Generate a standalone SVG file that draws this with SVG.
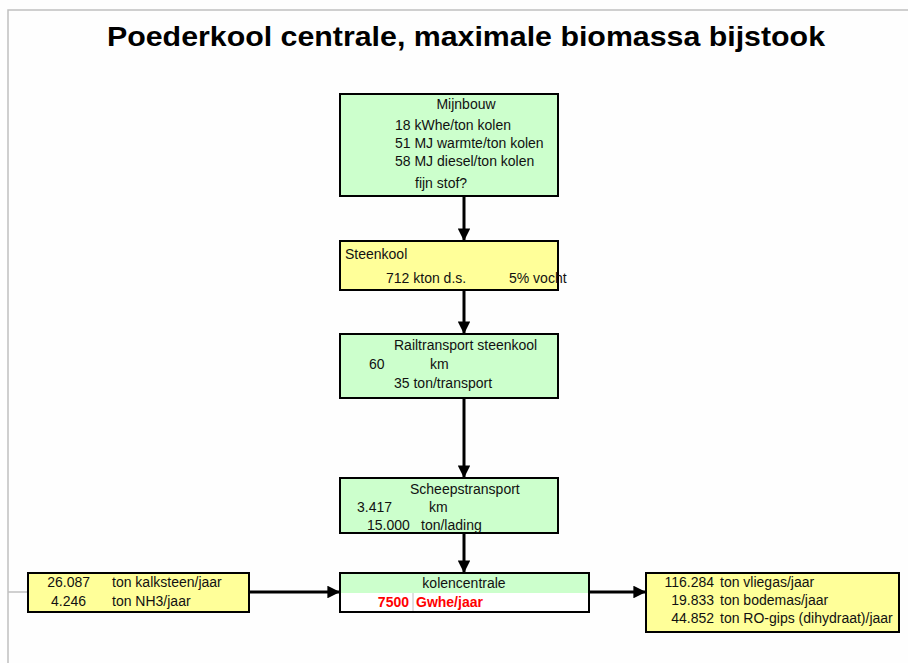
<svg xmlns="http://www.w3.org/2000/svg" width="908" height="663" viewBox="0 0 908 663">
  <style>
    .t { font-family: "Liberation Sans", Arial, sans-serif; font-size: 14px; fill: #111; }
    .title { font-family: "Liberation Sans", Arial, sans-serif; font-size: 27px; font-weight: bold; fill: #000; }
    .red { fill: #ff0000; font-weight: bold; }
    .green { fill: #ccffcc; stroke: #000; stroke-width: 2; }
    .yellow { fill: #ffff99; stroke: #000; stroke-width: 2; }
    .conn { stroke: #000; stroke-width: 3; fill: none; marker-end: url(#head); }
    .frame { stroke: #c0c0c0; stroke-width: 1.5; fill: none; }
  </style>
  <defs>
    <marker id="head" viewBox="0 0 10 10" refX="10" refY="5" markerWidth="4.2" markerHeight="4.2" markerUnits="strokeWidth" orient="auto">
      <path d="M0,0 L10,5 L0,10 Z" fill="#000"/>
    </marker>
  </defs>

  <rect x="0" y="0" width="908" height="663" fill="#fefefe"/>

  <!-- sheet frame -->
  <path class="frame" d="M8,663 V10 H908"/>
  <path class="frame" d="M8,592 H28"/>

  <text class="title" x="466" y="46" text-anchor="middle" textLength="718" lengthAdjust="spacingAndGlyphs">Poederkool centrale, maximale biomassa bijstook</text>

  <g id="connectors">
    <line class="conn" x1="464" y1="196" x2="464" y2="241"/>
    <line class="conn" x1="464" y1="290" x2="464" y2="334"/>
    <line class="conn" x1="464" y1="398" x2="464" y2="478"/>
    <line class="conn" x1="464" y1="533" x2="464" y2="573"/>
    <line class="conn" x1="249" y1="592" x2="340" y2="592"/>
    <line class="conn" x1="589" y1="592" x2="646" y2="592"/>
  </g>

  <g id="mijnbouw">
    <rect class="green" x="340" y="94" width="218" height="102"/>
    <text class="t" x="466" y="109" text-anchor="middle">Mijnbouw</text>
    <text class="t" x="395" y="130">18 kWhe/ton kolen</text>
    <text class="t" x="395" y="148">51 MJ warmte/ton kolen</text>
    <text class="t" x="395" y="166">58 MJ diesel/ton kolen</text>
    <text class="t" x="415" y="188">fijn stof?</text>
  </g>

  <g id="steenkool">
    <rect class="yellow" x="340" y="241" width="218" height="49"/>
    <text class="t" x="345" y="259">Steenkool</text>
    <text class="t" x="386" y="283">712 kton d.s.</text>
    <text class="t" x="509" y="283">5% vocht</text>
  </g>

  <g id="railtransport">
    <rect class="green" x="340" y="334" width="218" height="64"/>
    <text class="t" x="394" y="350">Railtransport steenkool</text>
    <text class="t" x="369" y="369">60</text>
    <text class="t" x="430" y="369">km</text>
    <text class="t" x="394" y="388">35 ton/transport</text>
  </g>

  <g id="scheepstransport">
    <rect class="green" x="340" y="478" width="218" height="55"/>
    <text class="t" x="410" y="494">Scheepstransport</text>
    <text class="t" x="357" y="512">3.417</text>
    <text class="t" x="429" y="512">km</text>
    <text class="t" x="367" y="530">15.000</text>
    <text class="t" x="421" y="530">ton/lading</text>
  </g>

  <g id="kolencentrale">
    <rect x="340" y="573" width="249" height="39" fill="#ffffff"/>
    <rect x="340" y="573" width="249" height="20" fill="#ccffcc"/>
    <line x1="413" y1="593" x2="413" y2="612" stroke="#c0c0c0" stroke-width="1"/>
    <rect x="340" y="573" width="249" height="39" fill="none" stroke="#000" stroke-width="2"/>
    <text class="t" x="464" y="588" text-anchor="middle">kolencentrale</text>
    <text class="t red" x="409" y="607" text-anchor="end">7500</text>
    <text class="t red" x="416" y="607">Gwhe/jaar</text>
  </g>

  <g id="toevoer">
    <rect class="yellow" x="28" y="573" width="221" height="39"/>
    <text class="t" x="90" y="587" text-anchor="end">26.087</text>
    <text class="t" x="112" y="587">ton kalksteen/jaar</text>
    <text class="t" x="86" y="606" text-anchor="end">4.246</text>
    <text class="t" x="112" y="606">ton NH3/jaar</text>
  </g>

  <g id="reststoffen">
    <rect class="yellow" x="646" y="573" width="253" height="59"/>
    <text class="t" x="714" y="587" text-anchor="end">116.284</text>
    <text class="t" x="720" y="587">ton vliegas/jaar</text>
    <text class="t" x="714" y="605" text-anchor="end">19.833</text>
    <text class="t" x="720" y="605">ton bodemas/jaar</text>
    <text class="t" x="714" y="623" text-anchor="end">44.852</text>
    <text class="t" x="720" y="623">ton RO-gips (dihydraat)/jaar</text>
  </g>
</svg>
